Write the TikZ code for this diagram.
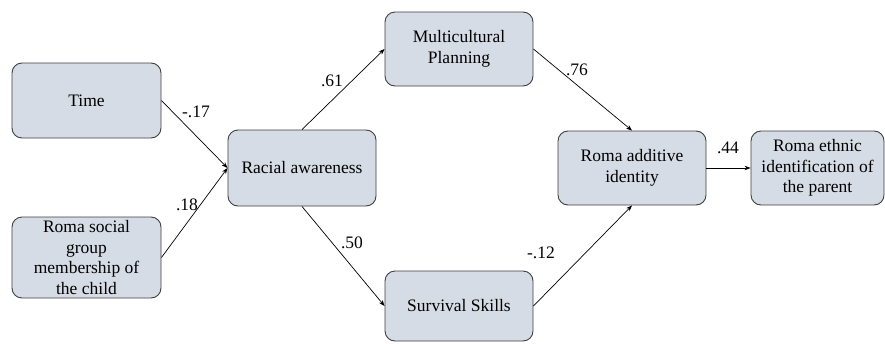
\documentclass[tikz,border=0pt]{standalone}
\usepackage{fontspec}
\setmainfont{Liberation Serif}
\newfontfamily\labelfont{Liberation Serif}
\usetikzlibrary{arrows.meta}
\definecolor{boxfill}{HTML}{D6DCE5}
\definecolor{boxline}{HTML}{3F3F3F}
\begin{document}
\begin{tikzpicture}[x=1pt,y=-1pt,
  var/.style={draw=boxline,fill=boxfill,line width=0.9pt,rounded corners=10pt,
    align=center,inner sep=2pt,font=\labelfont\fontsize{17.5}{20.5}\selectfont},
  path/.style={draw=black,line width=0.7pt,-{Stealth[length=6pt,width=4.5pt]}},
  coef/.style={font=\labelfont\fontsize{17.5}{20.5}\selectfont,inner sep=0pt}]
\useasboundingbox (0,0) rectangle (885,343);

% variables
\node[var,minimum width=149pt,minimum height=75pt] (time) at (86.5,100.5) {Time};
\node[var,minimum width=149pt,minimum height=81pt] (rsg) at (86.5,257.5)
  {Roma social\\group\\membership of\\the child};
\node[var,minimum width=148pt,minimum height=76pt] (ra) at (302,168) {Racial awareness};
\node[var,minimum width=148pt,minimum height=74pt] (mp) at (459,49) {Multicultural\\Planning};
\node[var,minimum width=148pt,minimum height=70pt] (ss) at (459,306) {Survival Skills};
\node[var,minimum width=148pt,minimum height=74pt] (rai) at (632,168) {Roma additive\\identity};
\node[var,minimum width=133pt,minimum height=74pt] (rei) at (817.5,168)
  {Roma ethnic\\identification of\\the parent};

% paths
\draw[path] (time.east) -- (ra.west);
\draw[path] (rsg.east) -- (ra.west);
\draw[path] (ra.north) -- (mp.west);
\draw[path] (ra.south) -- (ss.west);
\draw[path] (mp.east) -- (rai.north);
\draw[path] (ss.east) -- (rai.south);
\draw[path] (rai.east) -- (rei.west);

% path coefficients
\node[coef] (c1) at (196,112) {-.17};
\node[coef] (c2) at (187,205) {.18};
\node[coef] (c3) at (332,81) {.61};
\node[coef] (c4) at (577,70) {.76};
\node[coef] (c5) at (352,243) {.50};
\node[coef] (c6) at (541,253) {-.12};
\node[coef] (c7) at (728,148) {.44};
\end{tikzpicture}
\end{document}
